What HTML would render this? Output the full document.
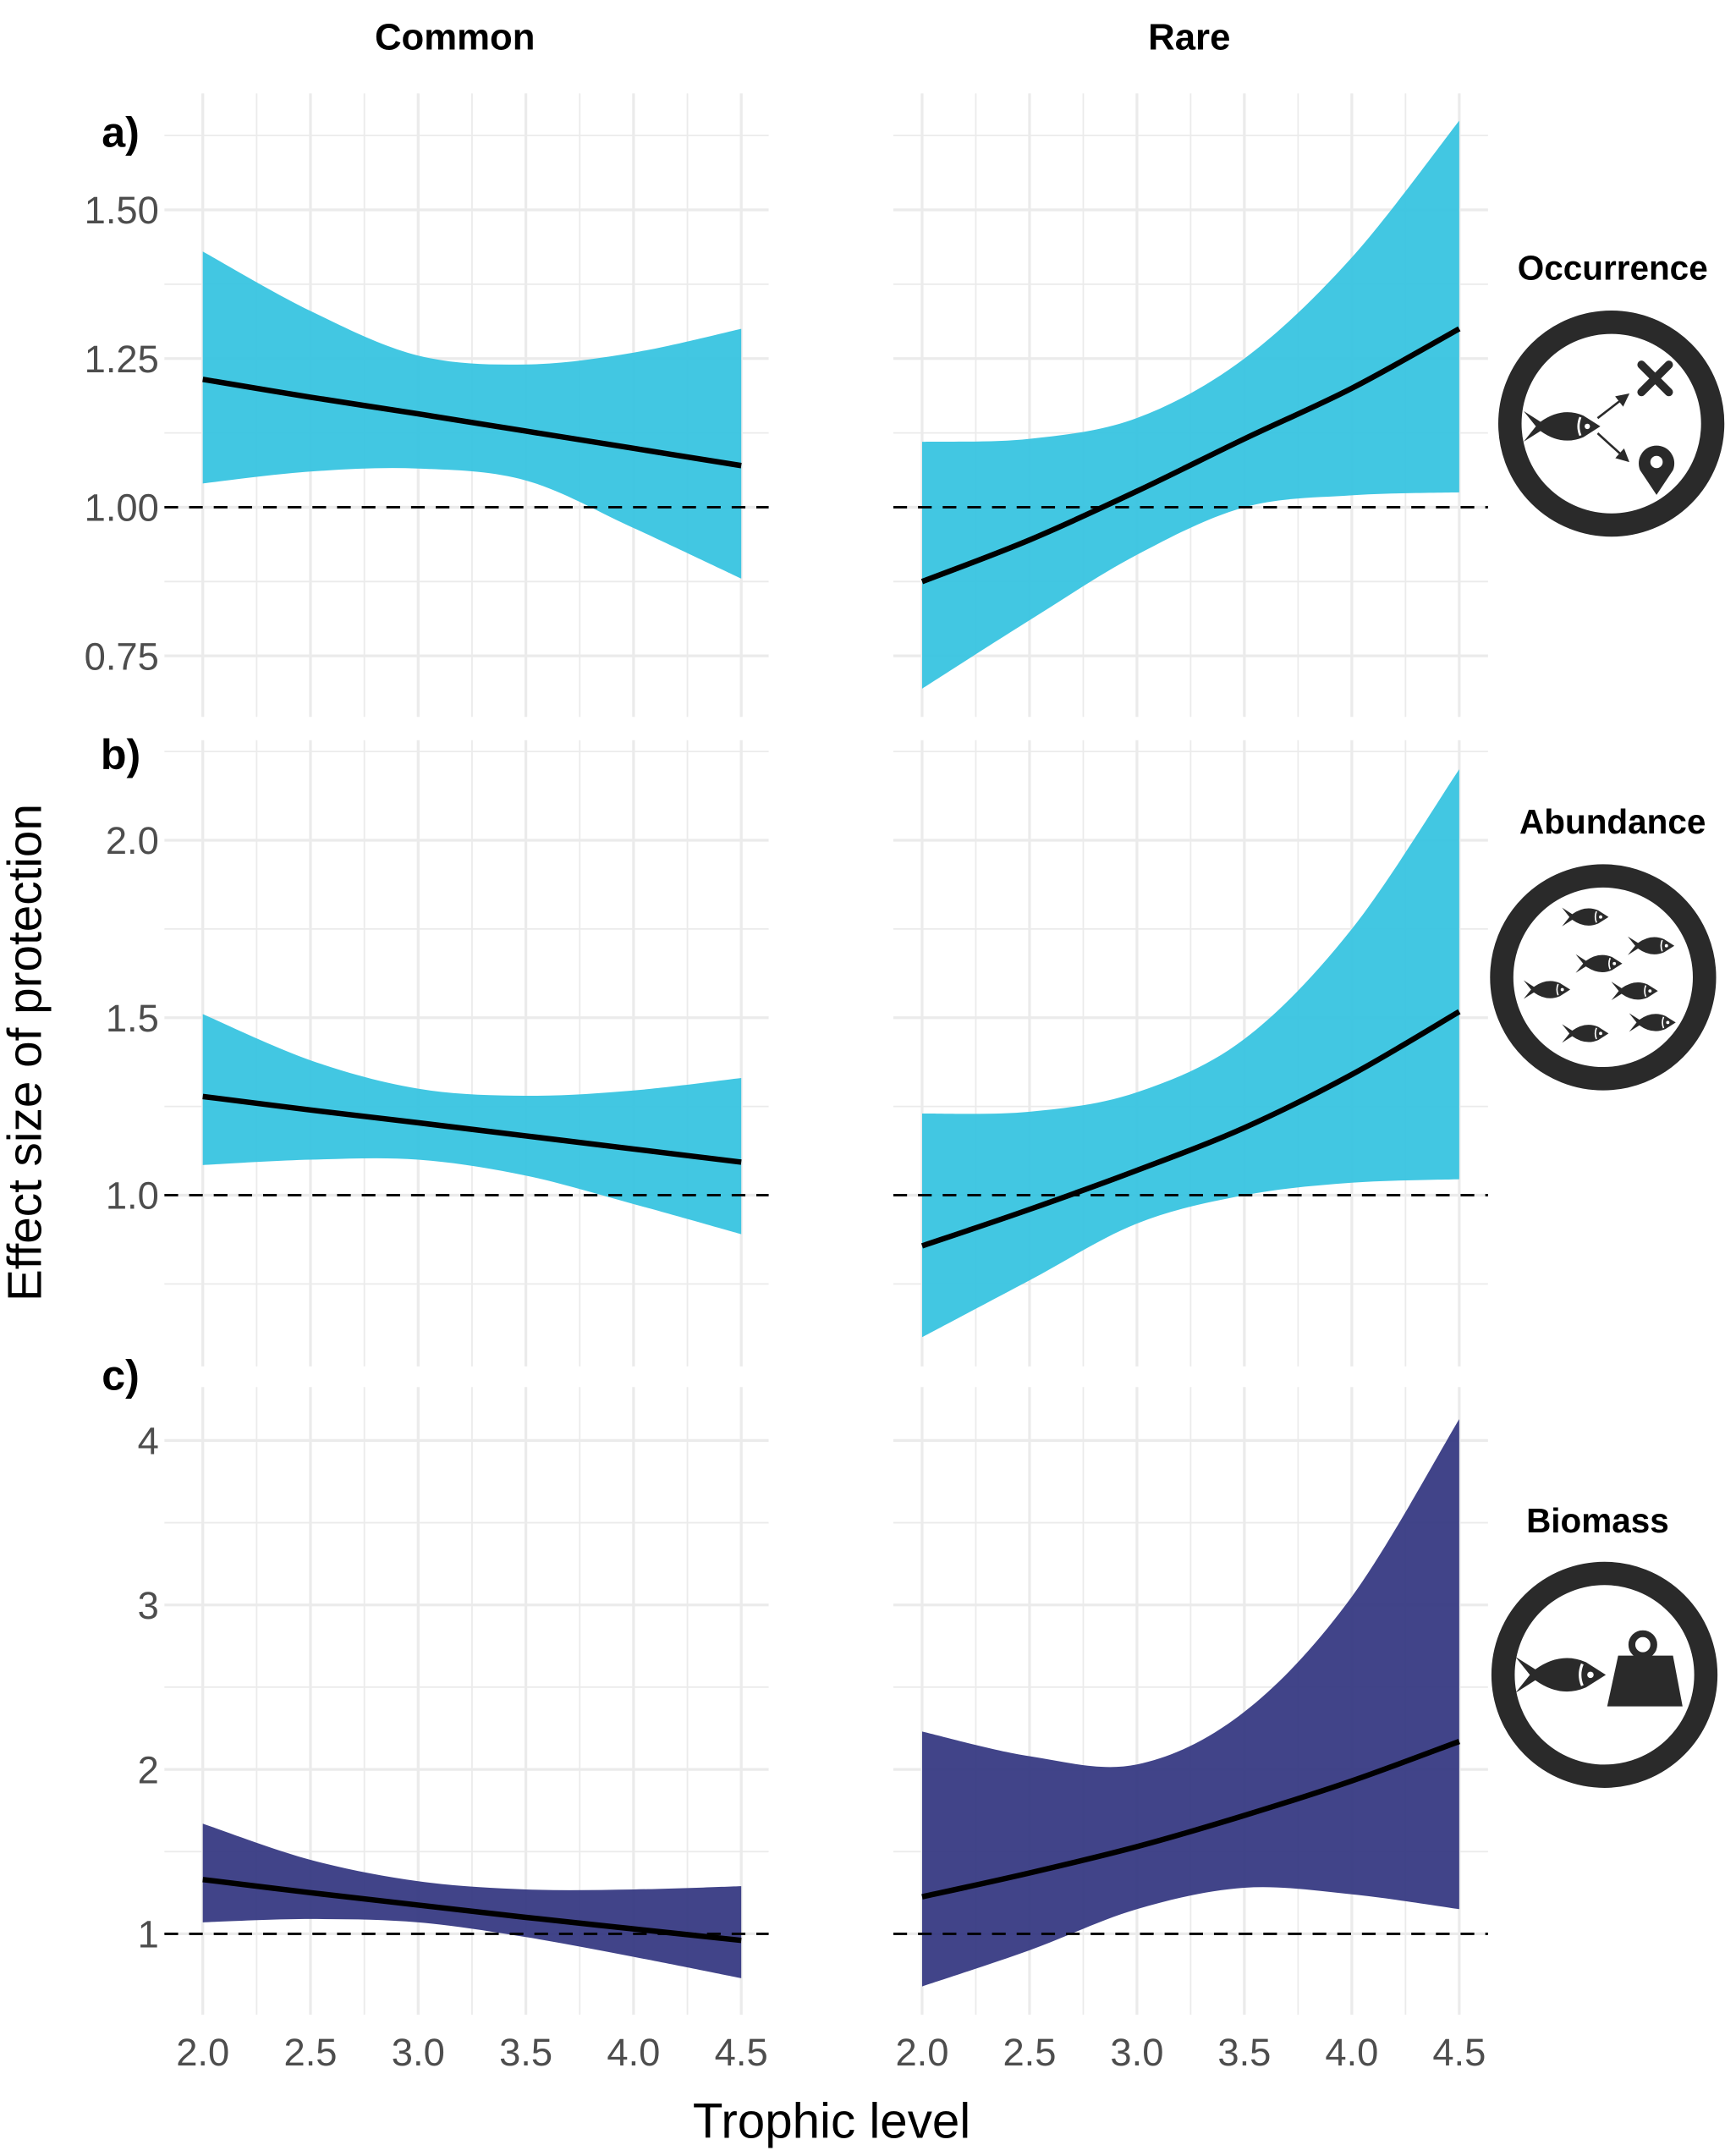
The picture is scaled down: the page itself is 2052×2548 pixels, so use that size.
<!DOCTYPE html>
<html><head><meta charset="utf-8"><style>
html,body{margin:0;padding:0;background:#fff;}
svg{display:block;}
text{font-family:"Liberation Sans",Arial,sans-serif;}
</style></head><body>
<svg id="chart" width="2052" height="2548" viewBox="0 0 1267 1573" xmlns="http://www.w3.org/2000/svg">
<text x="332" y="36" font-size="27" font-weight="bold" text-anchor="middle">Common</text>
<text x="868" y="36" font-size="27" font-weight="bold" text-anchor="middle">Rare</text>
<text transform="translate(30,768) rotate(-90)" font-size="35" text-anchor="middle">Effect size of protection</text>
<text x="607" y="1560" font-size="36" text-anchor="middle">Trophic level</text>
<g id="panels"></g>
<g id="icons"></g>
</svg>
<script>
// ---- data (x = trophic level) ----
const xVals = [2.0, 2.5, 3.0, 3.5, 4.0, 4.5];
const xTicks = [2.0, 2.5, 3.0, 3.5, 4.0, 4.5];
const xTickLabels = ["2.0","2.5","3.0","3.5","4.0","4.5"];

const occCommonFit = [1.215,1.185,1.157,1.128,1.099,1.07];
const occCommonUpper = [1.43,1.33,1.255,1.24,1.26,1.30];
const occCommonLower = [1.04,1.06,1.065,1.045,0.965,0.88];
const occRareFit = [0.875,0.945,1.027,1.115,1.20,1.30];
const occRareUpper = [1.11,1.115,1.15,1.25,1.42,1.65];
const occRareLower = [0.695,0.81,0.92,1.0,1.02,1.025];
const occTicks = [0.75,1.00,1.25,1.50];
const occTickLabels = ["0.75","1.00","1.25","1.50"];

const abuCommonFit = [1.278,1.24,1.204,1.167,1.13,1.093];
const abuCommonUpper = [1.51,1.38,1.30,1.28,1.295,1.33];
const abuCommonLower = [1.085,1.10,1.10,1.055,0.975,0.89];
const abuRareFit = [0.857,0.96,1.07,1.19,1.34,1.517];
const abuRareUpper = [1.23,1.235,1.29,1.44,1.75,2.20];
const abuRareLower = [0.60,0.76,0.92,1.0,1.035,1.045];
const abuTicks = [1.0,1.5,2.0];
const abuTickLabels = ["1.0","1.5","2.0"];

const bioCommonFit = [1.33,1.25,1.175,1.10,1.03,0.96];
const bioCommonUpper = [1.67,1.45,1.32,1.27,1.27,1.29];
const bioCommonLower = [1.07,1.09,1.07,0.98,0.86,0.73];
const bioRareFit = [1.225,1.37,1.53,1.72,1.93,2.17];
const bioRareUpper = [2.23,2.08,2.03,2.35,3.05,4.13];
const bioRareLower = [0.68,0.90,1.15,1.28,1.24,1.15];
const bioTicks = [1,2,3,4];
const bioTickLabels = ["1","2","3","4"];

const NS = "http://www.w3.org/2000/svg";
function mk(tag, attrs, parent){const e=document.createElementNS(NS,tag);for(const k in attrs)e.setAttribute(k,attrs[k]);parent.appendChild(e);return e;}
const panelsG = document.getElementById('panels');

const cols = [{x0:148,x1:541,gl:120,gr:561,name:'common'},{x0:673,x1:1065,gl:652,gr:1086,name:'rare'}];
const rows = [
 {tag:'a)',tagY:107,top:68,bot:523,v0:1.0,p0:370,v1:1.5,p1:153,minor:[0.625,0.875,1.125,1.375,1.625],ticks:occTicks,labels:occTickLabels,color:'#34c3e0',
  series:[[occCommonFit,occCommonUpper,occCommonLower],[occRareFit,occRareUpper,occRareLower]],name:'occurrence'},
 {tag:'b)',tagY:561,top:540,bot:997,v0:1.0,p0:872,v1:2.0,p1:613,minor:[0.75,1.25,1.75,2.25],ticks:abuTicks,labels:abuTickLabels,color:'#34c3e0',
  series:[[abuCommonFit,abuCommonUpper,abuCommonLower],[abuRareFit,abuRareUpper,abuRareLower]],name:'abundance'},
 {tag:'c)',tagY:1014,top:1012,bot:1470,v0:1,p0:1411,v1:4,p1:1051,minor:[1.5,2.5,3.5],ticks:bioTicks,labels:bioTickLabels,color:'#333680',
  series:[[bioCommonFit,bioCommonUpper,bioCommonLower],[bioRareFit,bioRareUpper,bioRareLower]],name:'biomass'}
];

function curve(pts){
  let d = 'M'+pts[0][0]+','+pts[0][1];
  for(let i=0;i<pts.length-1;i++){
    const p0=pts[Math.max(0,i-1)],p1=pts[i],p2=pts[i+1],p3=pts[Math.min(pts.length-1,i+2)];
    const c1=[p1[0]+(p2[0]-p0[0])/6,p1[1]+(p2[1]-p0[1])/6];
    const c2=[p2[0]-(p3[0]-p1[0])/6,p2[1]-(p3[1]-p1[1])/6];
    d+=' C'+c1[0]+','+c1[1]+' '+c2[0]+','+c2[1]+' '+p2[0]+','+p2[1];
  }
  return d;
}

rows.forEach((r,ri)=>{
  const ys = v => r.p0 + (v - r.v0)*(r.p1 - r.p0)/(r.v1 - r.v0);
  const tl = mk('text',{x:88,y:r.tagY,'font-size':31,'font-weight':'bold','text-anchor':'middle'},panelsG);
  tl.textContent = r.tag;
  
  
  cols.forEach((c,ci)=>{
    const xs = v => c.x0 + (v-2.0)*(c.x1-c.x0)/2.5;
    const g = mk('g',{},panelsG);
    
    
    for(let k=0;k<=10;k++){
      const xv=2.0+k*0.25;
      const major = k%2===0;
      const l=mk('line',{x1:xs(xv),x2:xs(xv),y1:r.top,y2:r.bot,stroke:'#ebebeb','stroke-width':major?2:1.1},g);
      
      
    }
    r.minor.forEach(v=>{const y=ys(v); if(y>=r.top-2&&y<=r.bot+2){
      const l=mk('line',{x1:c.gl,x2:c.gr,y1:y,y2:y,stroke:'#ebebeb','stroke-width':1.1},g);
      
      }});
    r.ticks.forEach((v,i)=>{
      const y=ys(v);
      const l=mk('line',{x1:c.gl,x2:c.gr,y1:y,y2:y,stroke:'#ebebeb','stroke-width':2},g);
      
      
      if(ci===0){
        const t=mk('text',{x:116,y:y+10,'font-size':28,fill:'#4d4d4d','text-anchor':'end'},g);
        t.textContent=r.labels[i];
        
        
      }
    });
    const [fit,up,lo] = r.series[ci];
    const upPts = xVals.map((x,i)=>[xs(x),ys(up[i])]);
    const loPts = xVals.map((x,i)=>[xs(x),ys(lo[i])]).reverse();
    const dBand = curve(upPts)+' L'+loPts[0][0]+','+loPts[0][1]+curve(loPts).replace(/^M[^ C]+/,'')+' Z';
    const band = mk('path',{d:dBand,fill:r.color,'fill-opacity':0.93},g);
    
    
    const ref = mk('line',{x1:c.gl,x2:c.gr,y1:ys(1),y2:ys(1),stroke:'#000','stroke-width':1.8,'stroke-dasharray':'10 8'},g);
    
    
    const fl = mk('path',{d:curve(xVals.map((x,i)=>[xs(x),ys(fit[i])])),fill:'none',stroke:'#000','stroke-width':4},g);
    
    
    if(ri===2){
      xTicks.forEach((v,i)=>{
        const t=mk('text',{x:xs(v),y:1507,'font-size':28,fill:'#4d4d4d','text-anchor':'middle'},g);
        t.textContent=xTickLabels[i];
        
        
      });
    }
  });
});

// ---- icons ----
const icons = document.getElementById('icons');
function fish(parent,cx,cy,len){
  const g=mk('g',{transform:`translate(${cx},${cy}) scale(${len})`},parent);
  mk('path',{d:'M-0.5,-0.2 L-0.34,0 L-0.5,0.2 L-0.28,0.06 Q0,0.26 0.28,0.14 L0.5,0 L0.28,-0.14 Q0,-0.26 -0.28,-0.06 Z',fill:'#2a2a2a'},g);
  mk('path',{d:'M0.24,-0.12 Q0.19,0 0.24,0.12',fill:'none',stroke:'#fff','stroke-width':0.03},g);
  mk('circle',{cx:0.33,cy:0,r:0.035,fill:'#fff'},g);
  
  
  return g;
}
function ring(name,cx,cy){
  const c=mk('circle',{cx:cx,cy:cy,r:74,fill:'#fff',stroke:'#2a2a2a','stroke-width':17},icons);
  
  
}
function label(name,text,x,y){
  const t=mk('text',{x:x,y:y,'font-size':25,'font-weight':'bold','text-anchor':'middle'},icons);
  t.textContent=text;
  
  
}
label('occurrence','Occurrence',1177,204);
ring('occurrence',1176,309);
fish(icons,1140,311,56);
mk('defs',{},icons).innerHTML='<marker id="ah" markerWidth="6" markerHeight="6" refX="5" refY="3" orient="auto"><path d="M0,0 L6,3 L0,6 Z" fill="#2a2a2a"/></marker>';
mk('line',{x1:1166,y1:305,x2:1188,y2:288,stroke:'#2a2a2a','stroke-width':1.6,'marker-end':'url(#ah)'},icons);
mk('line',{x1:1166,y1:316,x2:1188,y2:336,stroke:'#2a2a2a','stroke-width':1.6,'marker-end':'url(#ah)'},icons);
mk('path',{d:'M1198,266 L1218,286 M1218,266 L1198,286',stroke:'#2a2a2a','stroke-width':6,'stroke-linecap':'round'},icons);
mk('path',{d:'M1209,361 L1197,343 A13,13 0 1 1 1221,343 Z',fill:'#2a2a2a'},icons);
mk('circle',{cx:1209,cy:337,r:4.5,fill:'#fff'},icons);

label('abundance','Abundance',1177,608);
ring('abundance',1170,713);
[[1157,669],[1205,690],[1167,703],[1129,722],[1193,723],[1157,754],[1206,746]].forEach(p=>fish(icons,p[0],p[1],34));

label('biomass','Biomass',1166,1118);
ring('biomass',1171,1222);
fish(icons,1139,1222,66);
mk('path',{d:'M1181,1208 L1221,1208 L1228,1245 L1173,1245 Z',fill:'#2a2a2a'},icons);
mk('circle',{cx:1199,cy:1200,r:8,fill:'none',stroke:'#2a2a2a','stroke-width':5},icons);
</script>
</body></html>
